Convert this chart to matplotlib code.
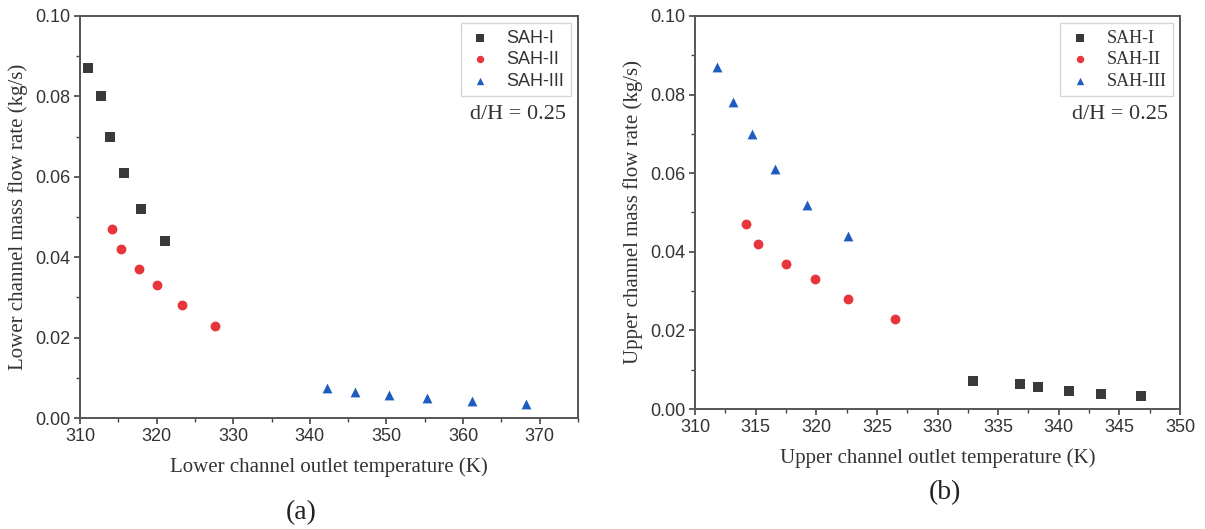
import matplotlib.pyplot as plt
from matplotlib.ticker import MultipleLocator
import matplotlib

matplotlib.rcParams['font.family'] = 'Liberation Sans'
matplotlib.rcParams['font.size'] = 13

# (a) lower channel
a_sah1_t = [311.1, 312.7, 313.9, 315.7, 318.0, 321.1]
a_sah1_m = [0.087, 0.080, 0.070, 0.061, 0.052, 0.044]
a_sah2_t = [314.2, 315.3, 317.7, 320.1, 323.3, 327.6]
a_sah2_m = [0.047, 0.042, 0.037, 0.033, 0.028, 0.023]
a_sah3_t = [342.3, 345.9, 350.3, 355.3, 361.2, 368.2]
a_sah3_m = [0.0074, 0.0065, 0.0058, 0.0051, 0.0043, 0.0035]

# (b) upper channel
b_sah1_t = [332.9, 336.8, 338.3, 340.8, 343.5, 346.8]
b_sah1_m = [0.0072, 0.0064, 0.0056, 0.0047, 0.0039, 0.0033]
b_sah2_t = [314.2, 315.2, 317.5, 319.9, 322.6, 326.5]
b_sah2_m = [0.047, 0.042, 0.037, 0.033, 0.028, 0.023]
b_sah3_t = [311.8, 313.1, 314.7, 316.6, 319.2, 322.6]
b_sah3_m = [0.087, 0.078, 0.070, 0.061, 0.052, 0.044]

labels = ['SAH-I', 'SAH-II', 'SAH-III']
colors = ['#3a3a3a', '#e8343c', '#1f5cc0']
markers = ['s', 'o', '^']

fig = plt.figure(figsize=(12.05, 5.29), dpi=100, facecolor='white')
ax1 = fig.add_axes([0.0664, 0.2098, 0.4133, 0.76])
ax2 = fig.add_axes([0.5768, 0.2268, 0.4025, 0.743])

serif = 'Liberation Serif'

def style(ax, xlim, xmaj, xlabel, ylabel):
    ax.set_xlim(*xlim)
    ax.set_ylim(0, 0.10)
    ax.xaxis.set_major_locator(MultipleLocator(xmaj))
    ax.xaxis.set_minor_locator(MultipleLocator(xmaj / 2))
    ax.yaxis.set_major_locator(MultipleLocator(0.02))
    ax.yaxis.set_minor_locator(MultipleLocator(0.01))
    ax.yaxis.set_major_formatter(matplotlib.ticker.FormatStrFormatter('%.2f'))
    ax.tick_params(which='both', direction='out', top=False, right=False,
                   color='#444444', labelcolor='#333333', labelsize=13)
    ax.tick_params(which='major', length=4, width=1.2, pad=3)
    ax.tick_params(which='minor', length=3, width=1.0)
    for s in ax.spines.values():
        s.set_color('#555555')
        s.set_linewidth(1.4)
    ax.set_xlabel(xlabel, family=serif, fontsize=15, color='#333333', labelpad=9)
    ax.set_ylabel(ylabel, family=serif, fontsize=15, color='#333333', labelpad=5)

for t, m, i in [(a_sah1_t, a_sah1_m, 0), (a_sah2_t, a_sah2_m, 1), (a_sah3_t, a_sah3_m, 2)]:
    ax1.scatter(t, m, marker=markers[i], color=colors[i], s=50, label=labels[i], linewidths=0)
style(ax1, (310, 375), 10, 'Lower channel outlet temperature (K)',
      'Lower channel mass flow rate (kg/s)')
leg1 = ax1.legend(loc='upper right', fontsize=13, frameon=True, fancybox=False,
                  edgecolor='#cccccc', handletextpad=0.7, borderpad=0.35,
                  labelspacing=0.25, markerscale=0.75, handlelength=1.5,
                  borderaxespad=0.4)
for tx in leg1.get_texts():
    tx.set_color('#333333')
ax1.text(0.975, 0.755, 'd/H = 0.25', transform=ax1.transAxes, ha='right', va='center',
         family=serif, fontsize=16, color='#333333')

for t, m, i in [(b_sah1_t, b_sah1_m, 0), (b_sah2_t, b_sah2_m, 1), (b_sah3_t, b_sah3_m, 2)]:
    ax2.scatter(t, m, marker=markers[i], color=colors[i], s=50, label=labels[i], linewidths=0)
style(ax2, (310, 350), 5, 'Upper channel outlet temperature (K)',
      'Upper channel mass flow rate (kg/s)')
leg2 = ax2.legend(loc='upper right', prop={'family': serif, 'size': 13}, frameon=True,
                  fancybox=False, edgecolor='#cccccc', handletextpad=0.7, borderpad=0.35,
                  labelspacing=0.25, markerscale=0.75, handlelength=1.5,
                  borderaxespad=0.4)
for tx in leg2.get_texts():
    tx.set_color('#333333')
ax2.text(0.975, 0.75, 'd/H = 0.25', transform=ax2.transAxes, ha='right', va='center',
         family=serif, fontsize=16, color='#333333')

fig.text(0.25, 0.008, '(a)', family=serif, fontsize=20, ha='center', va='bottom', color='#222222')
fig.text(0.784, 0.045, '(b)', family=serif, fontsize=20, ha='center', va='bottom', color='#222222')

plt.savefig('out.png', dpi=100, facecolor='white')
